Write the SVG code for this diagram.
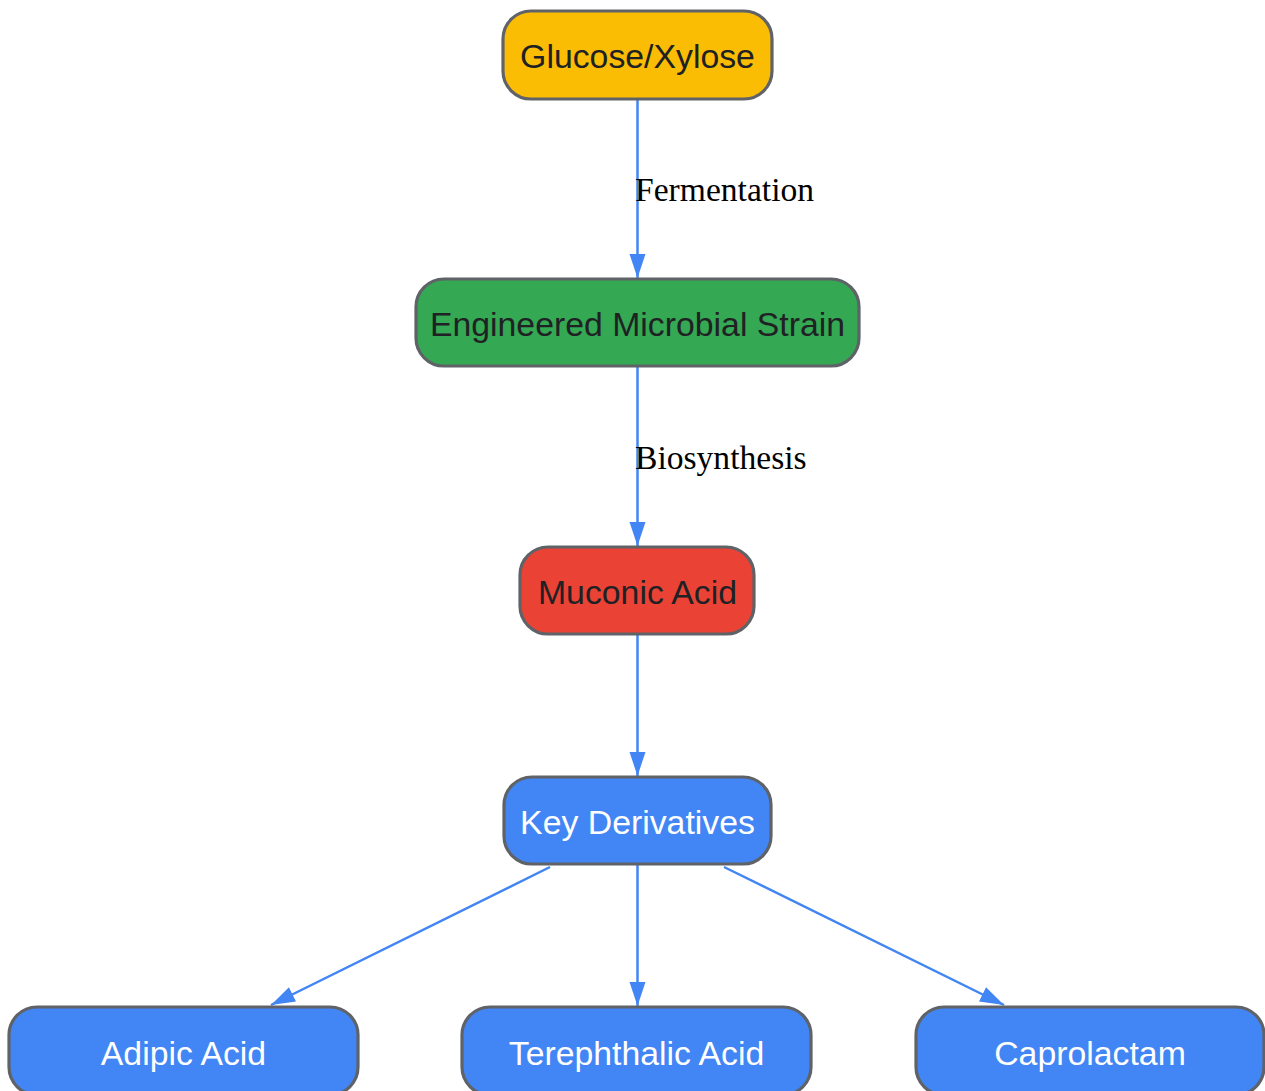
<svg xmlns="http://www.w3.org/2000/svg" width="1265" height="1091" viewBox="0 0 1265 1091">
<style>
.node rect{stroke:#5f6368;stroke-width:3.2}
.node text{font-family:"Liberation Sans",Arial,sans-serif;font-size:33.8px;text-anchor:middle}
.dark{fill:#202124}
.light{fill:#ffffff}
.edge{stroke:#4285f4;stroke-width:2.5;fill:none}
.elabel{font-family:"Liberation Serif","Times New Roman",serif;font-size:33.6px;fill:#000}
</style>
<defs>
<marker id="arrow" markerUnits="userSpaceOnUse" markerWidth="24" markerHeight="18" refX="24" refY="9" orient="auto">
<path d="M0,1 L24,9 L0,17 z" fill="#4285f4"/>
</marker>
</defs>
<rect width="1265" height="1091" fill="#ffffff"/>
<g id="connectors">
<line class="edge" x1="637.5" y1="100" x2="637.5" y2="278" marker-end="url(#arrow)"/>
<line class="edge" x1="637.5" y1="367" x2="637.5" y2="546" marker-end="url(#arrow)"/>
<line class="edge" x1="637.5" y1="635" x2="637.5" y2="776" marker-end="url(#arrow)"/>
<line class="edge" x1="550" y1="867" x2="271" y2="1005" marker-end="url(#arrow)"/>
<line class="edge" x1="637.5" y1="865" x2="637.5" y2="1006" marker-end="url(#arrow)"/>
<line class="edge" x1="724" y1="867" x2="1004" y2="1005" marker-end="url(#arrow)"/>
<text class="elabel" x="635" y="201">Fermentation</text>
<text class="elabel" x="635" y="469">Biosynthesis</text>
</g>
<g id="glucose" class="node">
<rect x="503" y="11" width="269" height="88" rx="28" fill="#fbbc04"/>
<text class="dark" x="637.5" y="68">Glucose/Xylose</text>
</g>
<g id="strain" class="node">
<rect x="416" y="279" width="443" height="87" rx="28" fill="#34a853"/>
<text class="dark" x="637.5" y="336">Engineered Microbial Strain</text>
</g>
<g id="muconic" class="node">
<rect x="520" y="547" width="234" height="87" rx="28" fill="#ea4335"/>
<text class="dark" x="637.5" y="604">Muconic Acid</text>
</g>
<g id="derivatives" class="node">
<rect x="504" y="777" width="267" height="87" rx="28" fill="#4285f4"/>
<text class="light" x="637.5" y="834">Key Derivatives</text>
</g>
<g id="adipic" class="node">
<rect x="9" y="1007" width="349" height="88" rx="28" fill="#4285f4"/>
<text class="light" x="183.5" y="1065">Adipic Acid</text>
</g>
<g id="terephthalic" class="node">
<rect x="462" y="1007" width="349" height="88" rx="28" fill="#4285f4"/>
<text class="light" x="636.5" y="1065">Terephthalic Acid</text>
</g>
<g id="caprolactam" class="node">
<rect x="916" y="1007" width="348" height="88" rx="28" fill="#4285f4"/>
<text class="light" x="1090" y="1065">Caprolactam</text>
</g>
</svg>
